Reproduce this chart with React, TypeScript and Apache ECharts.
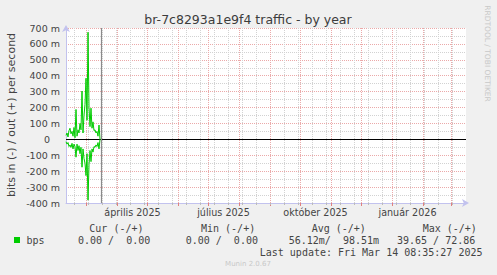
import React, { useEffect, useRef } from "react";
import * as echarts from "echarts";

// ---- data (values in milli bits per second) ----
const days = [
  "2025-02-08", "2025-02-09", "2025-02-10", "2025-02-11", "2025-02-12", "2025-02-13", "2025-02-14",
  "2025-02-15", "2025-02-16", "2025-02-17", "2025-02-18", "2025-02-19", "2025-02-20", "2025-02-21",
  "2025-02-22", "2025-02-23", "2025-02-24", "2025-02-25", "2025-02-26", "2025-02-27", "2025-02-28",
  "2025-03-01", "2025-03-02", "2025-03-03", "2025-03-04", "2025-03-05", "2025-03-06", "2025-03-07",
  "2025-03-08", "2025-03-09", "2025-03-10", "2025-03-11", "2025-03-12", "2025-03-13", "2025-03-14",
];
const outValues = [
  25, 40, 15, 55, 70, 35, 50, 20, 75, 10, 188, 20, 60, 40, 100, 60, 304, 40, 150, 220, 384, 120, 673,
  200, 80, 196, 70, 110, 55, 60, 40, 50, 20, 90, 0,
];
const inValues = [
  15, 30, 20, 45, 35, 50, 25, 60, 30, 45, 112, 30, 70, 40, 90, 50, 175, 60, 120, 150, 228, 90, 382,
  160, 70, 140, 60, 80, 45, 50, 35, 45, 20, 60, 0,
];

const rangeStart = "2025-02-08T12:00:00";
const rangeEnd = "2026-03-15T12:00:00";
const nowMark = "2025-03-15T12:00:00";

const monthStarts = [
  "2025-03-01", "2025-04-01", "2025-05-01", "2025-06-01", "2025-07-01", "2025-08-01", "2025-09-01",
  "2025-10-01", "2025-11-01", "2025-12-01", "2026-01-01", "2026-02-01", "2026-03-01",
];
const firstBiweekly = "2025-02-17";
const lastBiweekly = "2026-03-02";

const xLabelDates = ["2025-04-16", "2025-07-16", "2025-10-16", "2026-01-16"];
const xLabels = ["április 2025", "július 2025", "október 2025", "január 2026"];

const yMin = -400;
const yMax = 700;
const yStep = 100;

const titleText = "br-7c8293a1e9f4 traffic - by year";
const yAxisTitle = "bits in (-) / out (+) per second";
const legendName = "bps";
const legendHeaders = ["Cur (-/+)", "Min (-/+)", "Avg (-/+)", "Max (-/+)"];
const legendValues = ["0.00 /  0.00", "0.00 /  0.00", "56.12m/  98.51m", "39.65 / 72.86"];
const lastUpdate = "Last update: Fri Mar 14 08:35:27 2025";
const footer = "Munin 2.0.67";
const sideText = "RRDTOOL / TOBI OETIKER";

const ts = (s: string) => new Date(s.length === 10 ? s + "T00:00:00" : s).getTime();
const noon = (s: string) => new Date(s + "T12:00:00").getTime();

export default function App() {
  const ref = useRef<HTMLDivElement>(null);
  useEffect(() => {
    if (!ref.current) return;
    const chart = echarts.init(ref.current, null, { renderer: "svg" });

    const monthTs = monthStarts.map(ts);
    const labelTs = xLabelDates.map(ts);
    const biweekly: number[] = [];
    for (let t = ts(firstBiweekly); t <= ts(lastBiweekly) + 3600e3; t += 14 * 86400e3) biweekly.push(t);

    const green = "#00cc00";
    const axisBlue = "#c2c2ee";
    const redGrid = "#eba9a9";
    const grayGrid = "#d2d2d2";
    const labelFont = "DejaVu Sans";

    const option: any = {
      animation: false,
      backgroundColor: "#F0F0F0",
      grid: {
        left: 66,
        right: 31,
        top: 28,
        bottom: 72,
        show: true,
        backgroundColor: "#ffffff",
        borderWidth: 0,
      },
      xAxis: [
        {
          type: "value",
          min: ts(rangeStart),
          max: ts(rangeEnd),
          axisLine: {
            show: true,
            onZero: false,
            lineStyle: { color: axisBlue, width: 1 },
            symbol: ["none", "arrow"],
            symbolSize: [6, 7],
            symbolOffset: [0, 3],
          },
          axisTick: { show: true, customValues: monthTs, length: 3, lineStyle: { color: "#e08080" } },
          axisLabel: {
            show: true,
            customValues: labelTs,
            formatter: (v: number) => {
              let best = 0;
              labelTs.forEach((t, i) => {
                if (Math.abs(t - v) < Math.abs(labelTs[best] - v)) best = i;
              });
              return xLabels[best];
            },
            color: "#444",
            fontSize: 9.6,
            fontFamily: labelFont,
            margin: 4,
            hideOverlap: false,
          },
          splitLine: { show: false },
        },
        {
          type: "value",
          min: ts(rangeStart),
          max: ts(rangeEnd),
          position: "bottom",
          axisLine: { show: false, onZero: false },
          axisTick: { show: true, customValues: biweekly, length: 2, lineStyle: { color: "#bbbbbb" } },
          axisLabel: { show: false },
          splitLine: { show: false },
        },
      ],
      yAxis: {
        type: "value",
        min: yMin,
        max: yMax,
        interval: yStep,
        axisLine: {
          show: true,
          onZero: false,
          lineStyle: { color: axisBlue, width: 1 },
          symbol: ["none", "arrow"],
          symbolSize: [6, 7],
          symbolOffset: [0, 3],
        },
        axisTick: { show: false },
        axisLabel: {
          color: "#444",
          fontSize: 9.5,
          fontFamily: labelFont,
          margin: 6,
          formatter: (v: number) => (v === 0 ? "{z|0}" : `${v} m`),
          rich: { z: { color: "#444", fontSize: 9.5, fontFamily: labelFont, padding: [0, 10, 0, 0] } },
        },
        splitLine: { show: true, lineStyle: { color: redGrid, width: 1, type: [1, 1] } },
        minorTick: { show: false, splitNumber: 2 },
        minorSplitLine: { show: true, lineStyle: { color: grayGrid, width: 1, type: [1, 1] } },
      },
      graphic: [
        {
          type: "text",
          x: 248,
          y: 19.5,
          style: { text: titleText, fill: "#3c3c3c", font: `12.5px "${labelFont}"`, align: "center", verticalAlign: "middle" },
        },
        {
          type: "text",
          x: 11,
          y: 115,
          rotation: Math.PI / 2,
          style: { text: yAxisTitle, fill: "#444", font: `11px "${labelFont}"`, align: "center", verticalAlign: "middle" },
        },
        {
          type: "text",
          x: 487,
          y: 53.5,
          rotation: -Math.PI / 2,
          style: { text: sideText, fill: "#c8c8c8", font: `7.5px "${labelFont}"`, align: "center", verticalAlign: "middle" },
        },
        ...legendHeaders.map((h, i) => ({
          type: "text",
          x: [89.3, 201, 311.7, 422.7][i],
          y: 228,
          style: { text: h, fill: "#444", font: '10px "DejaVu Sans Mono"', align: "left", verticalAlign: "middle" },
        })),
        {
          type: "rect",
          shape: { x: 14, y: 237, width: 6, height: 6 },
          style: { fill: green },
        },
        {
          type: "text",
          x: 26.5,
          y: 240,
          style: { text: legendName, fill: "#444", font: '10px "DejaVu Sans Mono"', align: "left", verticalAlign: "middle" },
        },
        ...legendValues.map((v, i) => ({
          type: "text",
          x: [78, 185.7, 288.7, 397][i],
          y: 240,
          style: { text: v, fill: "#444", font: '10px "DejaVu Sans Mono"', align: "left", verticalAlign: "middle" },
        })),
        {
          type: "text",
          x: 482.5,
          y: 252,
          style: { text: lastUpdate, fill: "#444", font: '10px "DejaVu Sans Mono"', align: "right", verticalAlign: "middle" },
        },
        {
          type: "text",
          x: 248,
          y: 264,
          style: { text: footer, fill: "#c8c8c8", font: `7px "${labelFont}"`, align: "center", verticalAlign: "middle" },
        },
      ],
      series: [
        {
          type: "line",
          name: "grid",
          data: [],
          z: 1,
          silent: true,
          markLine: {
            z: 1,
            silent: true,
            symbol: "none",
            label: { show: false },
            emphasis: { disabled: true },
            animation: false,
            data: [
              ...biweekly.map((t) => ({ xAxis: t, lineStyle: { color: grayGrid, width: 1, type: [1, 1] } })),
              ...monthTs.map((t) => ({ xAxis: t, lineStyle: { color: redGrid, width: 1, type: [1, 1] } })),
            ],
          },
        },
        {
          type: "line",
          name: "rules",
          data: [],
          z: 2,
          silent: true,
          markLine: {
            z: 2,
            silent: true,
            symbol: "none",
            label: { show: false },
            emphasis: { disabled: true },
            animation: false,
            data: [
              { yAxis: 0, lineStyle: { color: "#000000", width: 1, type: "solid" } },
              { xAxis: ts(nowMark), lineStyle: { color: "#8a8a8a", width: 1.2, type: "solid" } },
            ],
          },
        },
        {
          type: "line",
          name: "out",
          data: days.map((d, i) => [noon(d), outValues[i]]),
          showSymbol: false,
          z: 3,
          lineStyle: { color: green, width: 1 },
          itemStyle: { color: green },
        },
        {
          type: "line",
          name: "in",
          data: days.map((d, i) => [noon(d), -inValues[i]]),
          showSymbol: false,
          z: 3,
          lineStyle: { color: green, width: 1 },
          itemStyle: { color: green },
        },
      ],
    };
    chart.setOption(option);
    return () => chart.dispose();
  }, []);
  return (
    <div
      ref={ref}
      style={{ position: "fixed", left: 0, top: 0, width: 497, height: 275 }}
    />
  );
}
